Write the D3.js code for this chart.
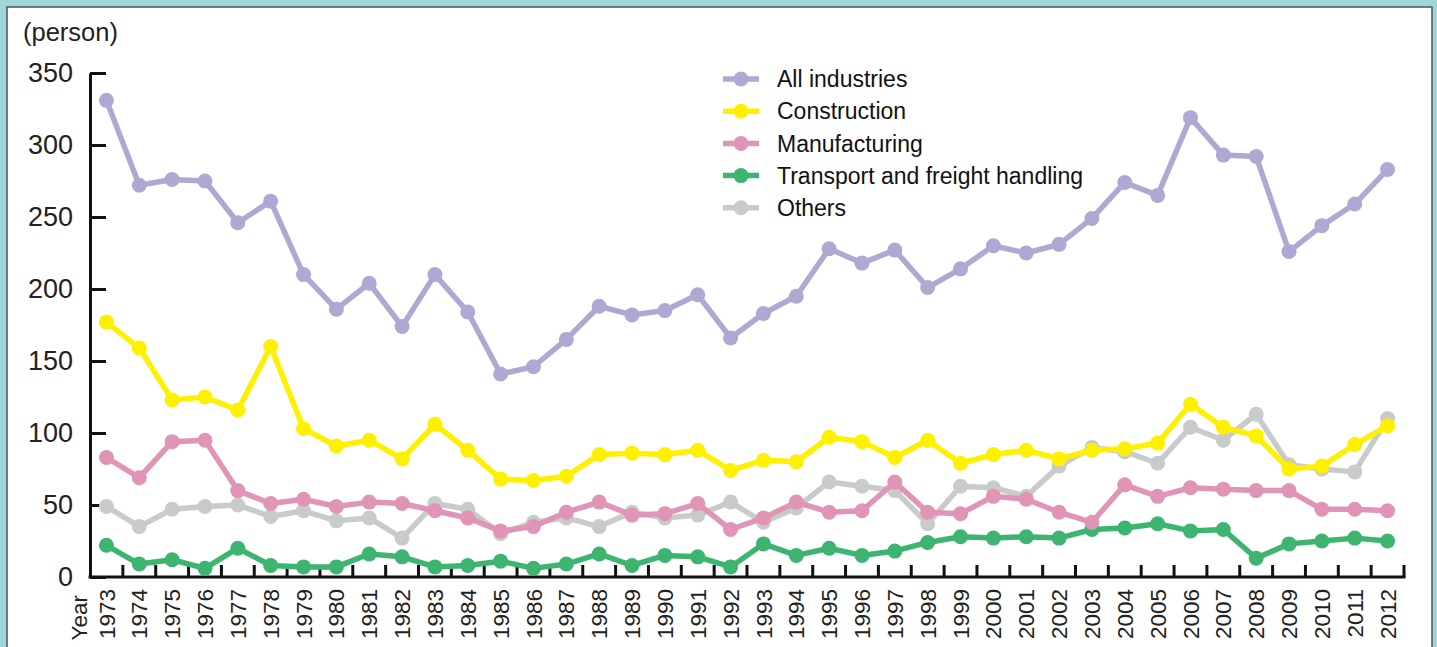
<!DOCTYPE html>
<html>
<head>
<meta charset="utf-8">
<script src="https://cdn.jsdelivr.net/npm/d3@7"></script>
<style>
  html, body { margin: 0; padding: 0; background: #a1d6d9; }
  svg { display: block; font-family: "Liberation Sans", Arial, sans-serif; }
</style>
</head>
<body>
<svg></svg>
<script>
const width = 1437;
const height = 647;

const years = d3.range(1973, 2013);
const allIndustries = [331, 272, 276, 275, 246, 261, 210, 186, 204, 174, 210, 184, 141, 146, 165, 188, 182, 185, 196, 166,
    183, 195, 228, 218, 227, 201, 214, 230, 225, 231, 249, 274, 265, 319, 293, 292, 226, 244, 259, 283];
const construction = [177, 159, 123, 125, 116, 160, 103, 91, 95, 82, 106, 88, 68, 67, 70, 85, 86, 85, 88, 74,
    81, 80, 97, 94, 83, 95, 79, 85, 88, 82, 88, 89, 93, 120, 104, 98, 75, 77, 92, 105];
const manufacturing = [83, 69, 94, 95, 60, 51, 54, 49, 52, 51, 46, 41, 32, 35, 45, 52, 43, 44, 51, 33,
    41, 52, 45, 46, 66, 45, 44, 56, 54, 45, 38, 64, 56, 62, 61, 60, 60, 47, 47, 46];
const transport = [22, 9, 12, 6, 20, 8, 7, 7, 16, 14, 7, 8, 11, 6, 9, 16, 8, 15, 14, 7,
    23, 15, 20, 15, 18, 24, 28, 27, 28, 27, 33, 34, 37, 32, 33, 13, 23, 25, 27, 25];
const others = [49, 35, 47, 49, 50, 42, 46, 39, 41, 27, 51, 47, 30, 38, 41, 35, 45, 41, 43, 52,
    38, 48, 66, 63, 60, 37, 63, 62, 56, 77, 90, 87, 79, 104, 95, 113, 78, 75, 73, 110];
const yTicks = [0, 50, 100, 150, 200, 250, 300, 350];

const legendNames = ["All industries", "Construction", "Manufacturing", "Transport and freight handling", "Others"];
const colors = ["#b0a8d3", "#fff000", "#e095b7", "#3db46f", "#c9caca"];
const seriesValues = [allIndustries, construction, manufacturing, transport, others];

let svg = d3.select("svg").attr("width", width).attr("height", height);

// white panel with dark frame
svg.append("rect").attr("x", 7).attr("y", 7).attr("width", 1425).attr("height", 700)
    .attr("fill", "#fff").attr("stroke", "#4a5556").attr("stroke-width", 1.5);

const x = d3.scaleBand().domain(years).range([90, 1404]).padding(0);
const y = d3.scaleLinear().domain([0, 350]).range([577, 73]);
const cx = (d) => x(d) + x.bandwidth() / 2;

// y axis
let yAxis = svg.append("g").attr("transform", "translate(90,0)")
    .call(d3.axisLeft(y).tickValues(yTicks).tickSizeInner(-16).tickSizeOuter(0).tickPadding(17));
yAxis.select(".domain").attr("stroke", "#111").attr("stroke-width", 3);
yAxis.selectAll(".tick line").attr("stroke", "#111").attr("stroke-width", 3);
yAxis.selectAll(".tick text").attr("font-size", 27).attr("fill", "#222").attr("font-family", "Liberation Sans, Arial, sans-serif");

// x axis
let xAxis = svg.append("g").attr("transform", "translate(0,577)")
    .call(d3.axisBottom(x).tickSize(0).tickSizeOuter(0));
xAxis.select(".domain").attr("stroke", "#111").attr("stroke-width", 3).attr("d", "M88.5,0H1405.5");
xAxis.selectAll(".tick text")
    .attr("font-size", 22.5).attr("fill", "#222").attr("font-family", "Liberation Sans, Arial, sans-serif")
    .attr("transform", "rotate(-90)").attr("text-anchor", "end")
    .attr("x", -12).attr("y", 0).attr("dy", "0.36em");
xAxis.selectAll(".xtick").data(years).enter().append("line").attr("class", "xtick")
    .attr("x1", (d) => x(d) + x.bandwidth()).attr("x2", (d) => x(d) + x.bandwidth())
    .attr("y1", 0).attr("y2", -12).attr("stroke", "#111").attr("stroke-width", 3);

svg.append("text").text("Year").attr("transform", "translate(79,595) rotate(-90)")
    .attr("text-anchor", "end").attr("dy", "0.36em").attr("font-size", 22.5).attr("fill", "#222");
svg.append("text").text("(person)").attr("x", 23).attr("y", 41).attr("font-size", 25.5).attr("fill", "#222");

// series, drawn back to front
const line = d3.line().x((d, i) => cx(years[i])).y((d) => y(d));
[4, 3, 2, 1, 0].forEach((k) => {
    let g = svg.append("g");
    g.append("path").attr("d", line(seriesValues[k])).attr("fill", "none")
        .attr("stroke", colors[k]).attr("stroke-width", 5.5).attr("stroke-linejoin", "round");
    g.selectAll("circle").data(seriesValues[k]).enter().append("circle")
        .attr("cx", (d, i) => cx(years[i])).attr("cy", (d) => y(d)).attr("r", 7.5).attr("fill", colors[k]);
});

// legend
let legend = svg.append("g");
legendNames.forEach((name, i) => {
    let ly = 79 + i * 32.2;
    legend.append("line").attr("x1", 723).attr("x2", 759).attr("y1", ly).attr("y2", ly)
        .attr("stroke", colors[i]).attr("stroke-width", 5.5);
    legend.append("circle").attr("cx", 741).attr("cy", ly).attr("r", 7.5).attr("fill", colors[i]);
    legend.append("text").text(name).attr("x", 777).attr("y", ly).attr("dy", "0.36em")
        .attr("font-size", 23).attr("fill", "#111");
});
</script>
</body>
</html>
